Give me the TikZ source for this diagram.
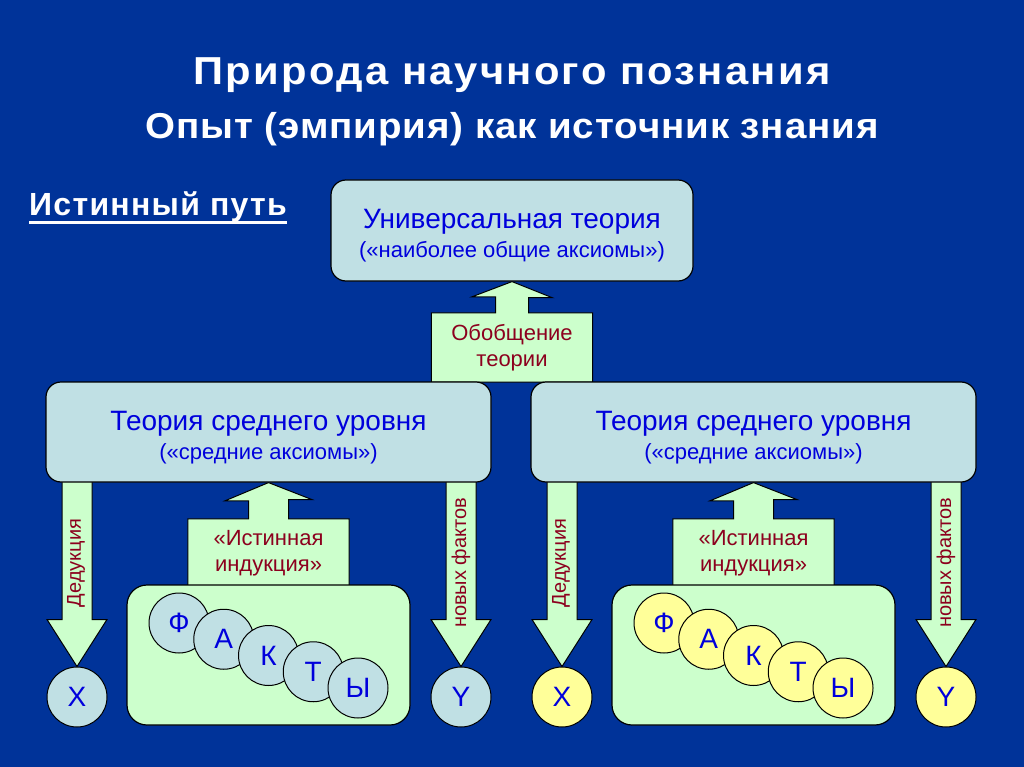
\documentclass[tikz,border=0pt]{standalone}
\usepackage{fontspec}
\setmainfont{Liberation Sans}
\usetikzlibrary{calc,backgrounds}

\definecolor{slideblue}{RGB}{0,51,153}
\definecolor{boxblue}{RGB}{192,224,228}
\definecolor{boxgreen}{RGB}{204,255,204}
\definecolor{boxyellow}{RGB}{255,255,153}
\definecolor{textblue}{RGB}{0,0,220}
\definecolor{textred}{RGB}{140,0,30}

\tikzset{
  theory/.style={draw=black, fill=boxblue, line width=1.2pt, rounded corners=15pt, align=center, text=textblue, inner sep=0pt, font=\fontsize{22}{29}\selectfont},
  blockarrow/.style={draw=black, fill=boxgreen, line width=1pt},
  arrowtext/.style={text=textred, align=center, inner sep=0pt, font=\fontsize{22}{26}\selectfont},
  sidetext/.style={text=textred, rotate=90, inner sep=0pt, font=\fontsize{20}{20}\selectfont},
  letter/.style={circle, draw=black, line width=1pt, minimum size=60pt, inner sep=0pt, text=textblue, font=\fontsize{28}{28}\selectfont},
  headline/.style={text=white, anchor=base, font=\bfseries\fontsize{39}{39}\selectfont\addfontfeature{FakeStretch=1.07,LetterSpace=5.7}}
}

\begin{document}
\begin{tikzpicture}[x=1pt,y=-1pt]
\begin{pgfonlayer}{background}
\fill[slideblue] (0,0) rectangle (1024,767);
\end{pgfonlayer}
\useasboundingbox (0,0) rectangle (1024,767);

% titles
\node[headline] (title) at (512,85) {Природа научного познания};
\node[headline, font=\bfseries\fontsize{36}{36}\selectfont\addfontfeature{FakeStretch=1.07,LetterSpace=2.5}] (subtitle) at (512,139) {Опыт (эмпирия) как источник знания};
\node[anchor=base west, inner sep=0pt, text=white, font=\bfseries\fontsize{32}{32}\selectfont\addfontfeature{LetterSpace=4}] (path) at (29,216) {Истинный путь};
\draw[white, line width=3pt] ([yshift=-7pt]path.base west) -- ([yshift=-7pt]path.base east);

% universal theory and generalization
\node[theory, minimum width=362pt, minimum height=101pt] (univ) at (512,230.5) {\rule{0pt}{30pt}{\fontsize{28}{30}\selectfont Универсальная теория}\\(«наиболее общие аксиомы»)};
\node[arrowtext, minimum width=161pt, minimum height=69pt] (gen) at (512,347.5) {Обобщение\\теории};
\begin{pgfonlayer}{background}
\filldraw[blockarrow] (gen.south west) -- (gen.north west) -- ($(gen.north)+(-16.5,0)$) -- ++(0,-16) -- ++(-23.5,0) -- (univ.south) -- ($(univ.south)+(40,16)$) -- ++(-23.5,0) -- ($(gen.north)+(16.5,0)$) -- (gen.north east) -- (gen.south east) -- cycle;
\end{pgfonlayer}

% two halves
\foreach \dx/\fc/\s in {0/boxblue/L, 485/boxyellow/R}{
  \node[theory, minimum width=445pt, minimum height=100pt] (mid\s) at (268.5+\dx,432) {\rule{0pt}{30pt}{\fontsize{28}{30}\selectfont Теория среднего уровня}\\(«средние аксиомы»)};
  \node[draw=black, fill=boxgreen, line width=1.2pt, rounded corners=20pt, minimum width=283pt, minimum height=140pt] (facts\s) at (268.5+\dx,655) {};
  \node[arrowtext, minimum width=161pt, minimum height=68pt] (ind\s) at (268.5+\dx,553) {«Истинная\\индукция»};
  \node[letter, fill=\fc] (x\s) at (77+\dx,697) {X};
  \node[letter, fill=\fc] (y\s) at (461+\dx,697) {Y};
  \foreach \l [count=\i from 0] in {Ф,А,К,Т,Ы}
    \node[letter, fill=\fc] (f\s\i) at (179+\dx+44.75*\i,623+16.25*\i) {\l};
  \node[sidetext] (ded\s) at (76+\dx,563) {Дедукция};
  \node[sidetext] (new\s) at (461+\dx,563) {новых фактов};
  \begin{pgfonlayer}{background}
  \filldraw[blockarrow] (x\s.north) -- ++(-30,-47) -- ++(15,0) -- ++(0,-143) -- ++(30,0) -- ++(0,143) -- ++(15,0) -- cycle;
  \filldraw[blockarrow] (y\s.north) -- ++(-30,-47) -- ++(15,0) -- ++(0,-143) -- ++(30,0) -- ++(0,143) -- ++(15,0) -- cycle;
  \filldraw[blockarrow] (ind\s.south west) -- (ind\s.north west) -- ($(ind\s.north)+(-20,0)$) -- ++(0,-18) -- ++(-23.5,0) -- (mid\s.south) -- ($(mid\s.south)+(43.5,17)$) -- ++(-23.5,0) -- ($(ind\s.north)+(20,0)$) -- (ind\s.north east) -- (ind\s.south east) -- cycle;
  \end{pgfonlayer}
}
\end{tikzpicture}
\end{document}
